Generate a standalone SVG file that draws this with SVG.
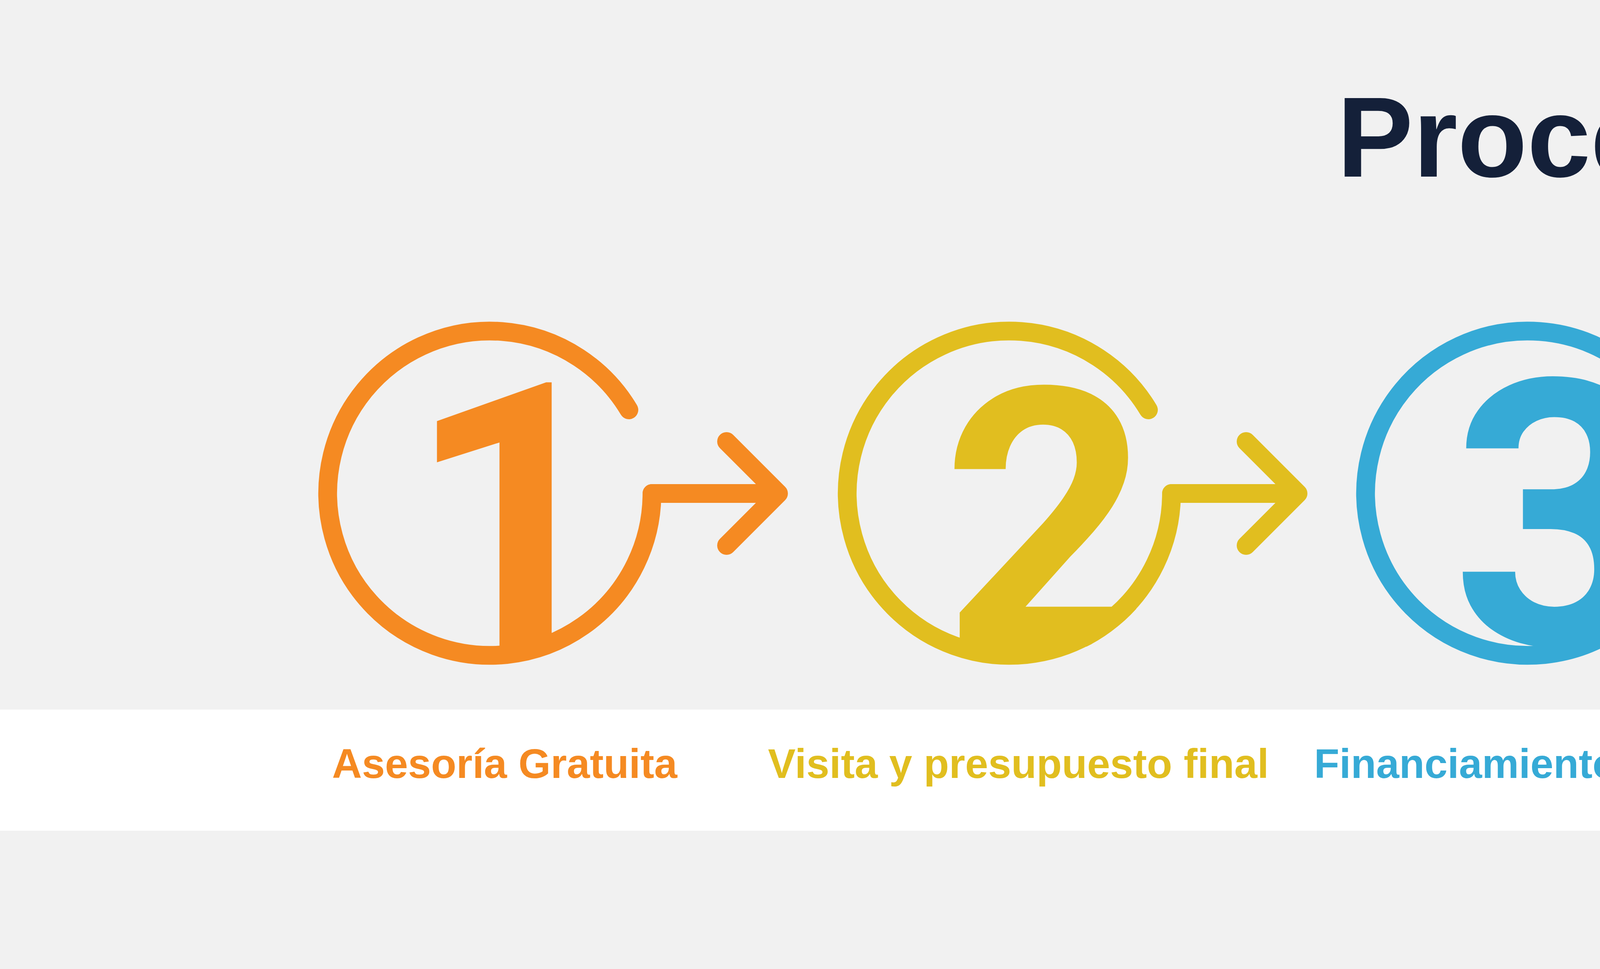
<svg xmlns="http://www.w3.org/2000/svg" width="7986" height="2480" viewBox="0 0 7986 2480">
<style>
.ring{fill:none;stroke-width:48;stroke-linecap:round;stroke-linejoin:round}
.conn{fill:none;stroke-width:48;stroke-linecap:round;stroke-linejoin:round}
.digit{font-family:Roboto,"Liberation Sans",Arial,sans-serif;font-weight:700;text-anchor:middle}
.label{font-family:"Liberation Sans",Arial,Helvetica,sans-serif;font-weight:700;font-size:106px}
.s1{stroke:#F58A22}.f1{fill:#F58A22}
.s2{stroke:#E1BE1F}.f2{fill:#E1BE1F}
.s3{stroke:#36AAD6}.f3{fill:#36AAD6}
.s4{stroke:#3D4BBD}.f4{fill:#3D4BBD}
.s5{stroke:#142039}.f5{fill:#142039}
</style>
<defs>
<clipPath id="k1"><circle cx="1254" cy="1263" r="439"/></clipPath>
<clipPath id="k2"><circle cx="2584" cy="1263" r="439"/></clipPath>
<clipPath id="k3"><circle cx="3911" cy="1263" r="439"/></clipPath>
<clipPath id="k4"><circle cx="5222" cy="1263" r="439"/></clipPath>
<clipPath id="k5"><circle cx="6569" cy="1263" r="439"/></clipPath>
</defs>
<rect x="0" y="0" width="7986" height="2480" fill="#F1F1F1"/>
<rect x="0" y="1816" width="7986" height="310" fill="#FFFFFF"/>
<text id="title" x="3999" y="452" font-family="Liberation Sans, Arial, sans-serif" font-weight="700" font-size="292" text-anchor="middle" fill="#142039">Proceso</text>

<g id="step1">
<path class="ring s1" d="M1610 1049 A415 415 0 1 0 1669 1263"/>
<text class="digit f1" x="1313" y="1655" font-size="950" clip-path="url(#k1)">1</text>
<text class="label f1" x="850" y="1991">Asesoría Gratuita</text>
</g>
<g id="step2">
<path class="ring s2" d="M2940 1049 A415 415 0 1 0 2999 1263"/>
<text class="digit f2" x="2678" y="1655" font-size="930" clip-path="url(#k2)">2</text>
<text class="label f2" x="1966" y="1991">Visita y presupuesto final</text>
</g>
<g id="step3">
<path class="ring s3" d="M4267 1049 A415 415 0 1 0 4326 1263"/>
<text class="digit f3" x="3988" y="1648" font-size="950" clip-path="url(#k3)">3</text>
<text class="label f3" x="3364" y="1991">Financiamiento y cierre</text>
</g>
<g id="step4">
<path class="ring s4" d="M5578 1049 A415 415 0 1 0 5637 1263"/>
<text class="digit f4" x="5274" y="1650" font-size="955" clip-path="url(#k4)">4</text>
<text class="label f4" x="4741" y="1991">Istalación y conexión</text>
</g>
<g id="step5">
<circle class="ring s5" cx="6569" cy="1263" r="415"/>
<text class="digit f5" x="6621" y="1674" font-size="950" clip-path="url(#k5)">5</text>
<text class="label f5" x="6035" y="1991">Monitoreo y mantención</text>
</g>

<g id="connectors">
<path class="conn s1" d="M1669 1263 L1993 1263 M1860 1130 L1993 1263 L1860 1396"/>
<path class="conn s2" d="M2999 1263 L3323 1263 M3190 1130 L3323 1263 L3190 1396"/>
<path class="conn s3" d="M4326 1263 L4650 1263 M4517 1130 L4650 1263 L4517 1396"/>
<path class="conn s4" d="M5637 1263 L5961 1263 M5828 1130 L5961 1263 L5828 1396"/>
</g>
</svg>
